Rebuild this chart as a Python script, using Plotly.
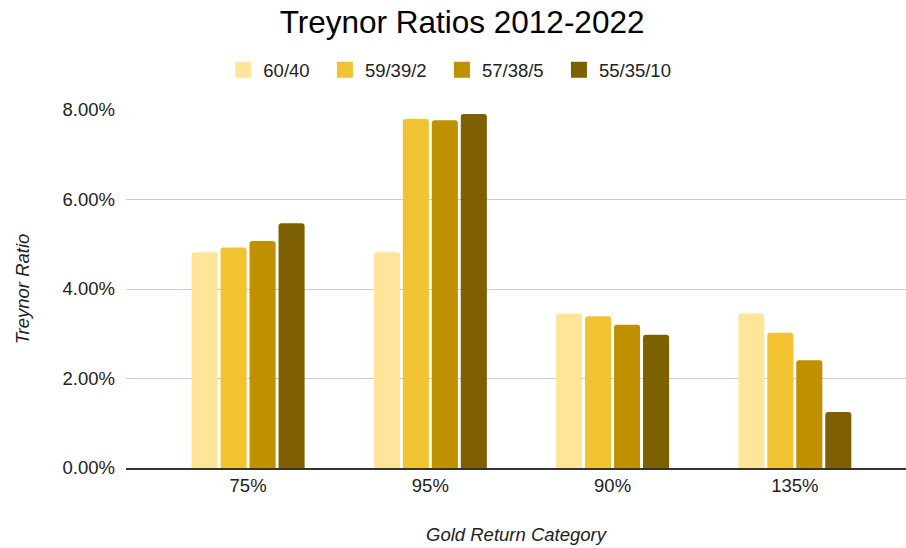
import plotly.graph_objects as go

categories = ["75%", "95%", "90%", "135%"]
series_names = ["60/40", "59/39/2", "57/38/5", "55/35/10"]
series_colors = ["#FFE599", "#F1C232", "#BF9000", "#7F6000"]

ratio_60_40 = [0.0482, 0.0482, 0.0345, 0.0345]
ratio_59_39_2 = [0.0493, 0.0780, 0.0339, 0.0302]
ratio_57_38_5 = [0.0507, 0.0777, 0.0320, 0.0241]
ratio_55_35_10 = [0.0547, 0.0791, 0.0298, 0.0125]

series_values = [ratio_60_40, ratio_59_39_2, ratio_57_38_5, ratio_55_35_10]

y_ticks = [0, 0.02, 0.04, 0.06, 0.08]

font_family = "Liberation Sans, Arial, sans-serif"

fig = go.Figure()
for name, color, values in zip(series_names, series_colors, series_values):
    fig.add_trace(go.Bar(
        x=categories,
        y=values,
        name=name,
        showlegend=False,
        marker=dict(color=color, line=dict(width=0), cornerradius=3),
    ))

# Legend entries drawn with larger square swatches; non-breaking spaces
# widen the gap between neighbouring entries.
pad = "\u00a0\u00a0"
for i, (name, color) in enumerate(zip(series_names, series_colors)):
    label = name + (pad if i < len(series_names) - 1 else "")
    fig.add_trace(go.Scatter(
        x=[None],
        y=[None],
        mode="markers",
        name=label,
        marker=dict(symbol="square", size=16, color=color),
        showlegend=True,
    ))

fig.update_layout(
    width=906,
    height=548,
    barmode="group",
    bargap=0.364,
    bargroupgap=0.1,
    plot_bgcolor="white",
    paper_bgcolor="white",
    font=dict(family=font_family, size=18, color="#222222"),
    margin=dict(l=126, r=0, t=110, b=80),
    title=dict(
        text="Treynor Ratios 2012-2022",
        x=0.51, xref="container", xanchor="center",
        y=0.96, yref="container", yanchor="middle",
        font=dict(size=31.5, color="#000000"),
    ),
    legend=dict(
        orientation="h",
        x=0.4965, xref="container", xanchor="center",
        y=0.872, yref="container", yanchor="middle",
        font=dict(size=18.5, color="#222222"),
        itemwidth=30,
        itemsizing="trace",
        traceorder="normal",
    ),
    xaxis=dict(
        type="category",
        range=[-0.67, 3.61],
        showgrid=False,
        showline=True,
        linecolor="#333333",
        linewidth=2,
        ticks="",
        tickfont=dict(size=18.5, color="#222222"),
        title=dict(
            text="<i>Gold Return Category</i>",
            font=dict(size=18.5, color="#222222"),
            standoff=33,
        ),
    ),
    yaxis=dict(
        range=[0, 0.08],
        tickvals=y_ticks,
        tickformat=".2%",
        showgrid=True,
        gridcolor="#cccccc",
        gridwidth=1,
        zeroline=False,
        showline=False,
        ticks="",
        ticklabelstandoff=10,
        tickfont=dict(size=18.5, color="#222222"),
        title=dict(
            text="<i>Treynor Ratio</i>",
            font=dict(size=18.5, color="#222222"),
            standoff=28,
        ),
    ),
)

fig.write_html("out.html")
